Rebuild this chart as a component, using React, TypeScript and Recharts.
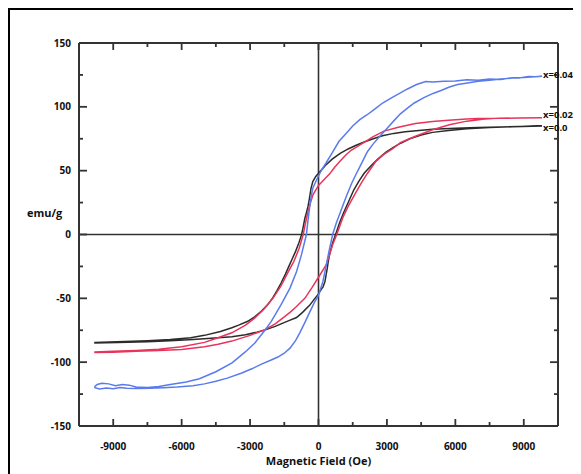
import React from "react";
import {
  LineChart,
  Line,
  XAxis,
  YAxis,
  ReferenceLine,
  ReferenceDot,
} from "recharts";

// Hysteresis loops: [field (Oe), moment (emu/g)].
// Each list runs down from +H max to -H max, then back up.
const loopX000: [number, number][] = [
  [9800, 85], [8800, 84.6], [8000, 84.3], [7000, 83.8], [6000, 83.2], [5000, 82.5],
  [4400, 81.5], [3800, 80.5], [3300, 79.2], [2800, 77.3], [2400, 75], [2000, 72.5],
  [1600, 69.5], [1300, 67], [950, 63.5], [600, 59], [300, 54], [100, 50], [0, 48],
  [-120, 45.5], [-250, 41.5], [-330, 36], [-400, 28], [-460, 22], [-530, 17],
  [-600, 12.5], [-670, 6], [-740, 0], [-850, -6], [-1000, -13], [-1150, -19],
  [-1300, -25], [-1450, -31], [-1640, -38], [-1820, -44], [-2000, -49.5],
  [-2250, -55.5], [-2500, -60], [-2800, -64.5], [-3100, -68], [-3500, -71],
  [-3800, -73], [-4300, -76], [-5000, -79], [-5600, -80.8], [-6500, -82.3],
  [-7500, -83.2], [-8500, -83.8], [-9800, -84.5],
  [-9800, -85], [-8800, -84.6], [-7500, -84], [-6500, -83.3], [-5500, -82.3],
  [-4700, -81.2], [-3800, -80], [-3200, -78.5], [-2700, -76.5], [-2300, -74.5],
  [-1900, -72], [-1640, -70], [-1300, -67.5], [-960, -65], [-700, -61],
  [-390, -55.5], [-200, -51], [0, -46.5], [120, -43], [200, -41], [280, -37],
  [330, -32], [380, -27], [420, -22], [470, -17], [520, -13], [620, -6.5],
  [750, 0], [920, 9], [1100, 17], [1350, 27], [1550, 35], [1780, 42], [2000, 48],
  [2150, 51], [2400, 55.5], [2600, 59], [2960, 64.5], [3300, 68.5], [3600, 71.5],
  [4000, 75], [4500, 78], [5000, 80], [5700, 81.5], [6500, 82.8], [7500, 83.8],
  [8500, 84.4], [9800, 85],
];

const loopX002: [number, number][] = [
  [9800, 91.5], [8800, 91.3], [8000, 91], [7000, 90.8], [6500, 90.5], [5700, 89.5],
  [5000, 88.5], [4250, 87], [3500, 84], [2870, 81], [2380, 76.5], [2070, 73],
  [1750, 69.5], [1430, 66], [1210, 62.5], [950, 57.5], [700, 52.5], [490, 47.5],
  [250, 43], [0, 38.5], [-245, 31], [-350, 25], [-460, 18], [-570, 9], [-670, 0],
  [-850, -11], [-1080, -21], [-1350, -30], [-1650, -40.5], [-2000, -50],
  [-2400, -58.5], [-2800, -65.5], [-3200, -71], [-3800, -77], [-4500, -81.5],
  [-5000, -84.5], [-6000, -88], [-7000, -89.8], [-8000, -90.8], [-9000, -91.5],
  [-9800, -92],
  [-9800, -92.5], [-9000, -92.2], [-8000, -91.5], [-7000, -90.8], [-6000, -90],
  [-5000, -88], [-4400, -86], [-3800, -83.5], [-3000, -79], [-2350, -74.5],
  [-1900, -70], [-1500, -64.5], [-1250, -61], [-1000, -57], [-800, -53.5],
  [-600, -50], [-300, -42], [0, -33.5], [330, -24], [480, -16], [620, -8], [800, 0],
  [1060, 13], [1300, 22], [1640, 33], [1900, 41], [2150, 48], [2500, 57],
  [2850, 62.5], [3240, 67], [3590, 72], [4250, 77], [5000, 82], [5740, 86],
  [6500, 88.8], [7200, 90.2], [7890, 91], [8800, 91.3], [9800, 91.5],
];

const loopX004: [number, number][] = [
  [9800, 124], [9500, 123.5], [9200, 123.8], [8800, 122.5], [8500, 122.8],
  [8000, 121.5], [7500, 121.8], [7000, 120.8], [6500, 121.2], [6000, 120.2],
  [5500, 120], [5000, 119.5], [4700, 119.8], [4300, 117.5], [3900, 114],
  [3590, 111], [3200, 107], [2810, 103], [2450, 98], [2150, 94], [1810, 90],
  [1500, 85], [1200, 79], [900, 73], [600, 64], [330, 56], [150, 51], [0, 46],
  [-245, 36.5], [-320, 30], [-390, 21], [-460, 11], [-530, 0], [-640, -8],
  [-750, -16], [-960, -29], [-1250, -42], [-1640, -55], [-2070, -68],
  [-2350, -75], [-2790, -85], [-3210, -92], [-3790, -100.5], [-4500, -107.5],
  [-5220, -113], [-5800, -115.5], [-6500, -117.5], [-7000, -119], [-7500, -119.8],
  [-8000, -119.5], [-8300, -118], [-8600, -117.5], [-8900, -118.5], [-9200, -117],
  [-9500, -116.5], [-9700, -117.5], [-9800, -119],
  [-9800, -120], [-9600, -121], [-9300, -120.2], [-9000, -120.8], [-8700, -119.8],
  [-8400, -120.5], [-8000, -120.6], [-7380, -120.4], [-6800, -120], [-6200, -119.5],
  [-5500, -118.5], [-5000, -117], [-4500, -115], [-4000, -112.5], [-3360, -108.5],
  [-2900, -105], [-2500, -101.5], [-2100, -98.5], [-1780, -96], [-1500, -93],
  [-1250, -89], [-1000, -83], [-820, -77], [-600, -69], [-390, -61], [-200, -54],
  [0, -47.5], [190, -37], [330, -25], [450, -14], [560, -5], [620, 0], [780, 9],
  [950, 17], [1200, 29], [1450, 40], [1640, 47], [1810, 53], [2150, 65],
  [2400, 71], [2670, 76.5], [3000, 83], [3300, 89], [3590, 94.5], [3900, 99],
  [4200, 103], [4600, 107], [5020, 110.5], [5400, 113], [5740, 115.5],
  [6100, 117.5], [6460, 118.5], [7000, 120], [7500, 120.8], [8000, 121.8],
  [8500, 122.5], [9000, 123], [9800, 124],
];

const xMajor = [-9000, -6000, -3000, 0, 3000, 6000, 9000];
const xMinor = [-7500, -4500, -1500, 1500, 4500, 7500];
const yMajor = [-150, -100, -50, 0, 50, 100, 150];
const yMinor = [-125, -75, -25, 25, 75, 125];

const FONT = "'Open Sans', sans-serif";
const AXIS = "#333";
const X_MIN = -10500;
const X_MAX = 10500;
const Y_MIN = -150;
const Y_MAX = 150;

const toPoints = (loop: [number, number][]) => loop.map(([h, m]) => ({ h, m }));

const tickText = { fontFamily: FONT, fontWeight: 700, fontSize: 10, fill: "#111" };
const tickStroke = { stroke: AXIS, strokeWidth: 1.8 };
const titleStyle: React.CSSProperties = {
  position: "absolute",
  fontFamily: FONT,
  fontWeight: 700,
  fontSize: 11,
  lineHeight: "15px",
  color: "#111",
  whiteSpace: "nowrap",
};

const series = [
  { name: "x=0.0", loop: loopX000, color: "#2b2b2b", dy: 2 },
  { name: "x=0.02", loop: loopX002, color: "#e8345c", dy: -2.7 },
  { name: "x=0.04", loop: loopX004, color: "#5a7bec", dy: -1.5 },
];

const NoLabel = () => <g />;

function EndTag(props: any) {
  const { viewBox, value, dy } = props;
  if (!viewBox) return null;
  const x = viewBox.x + viewBox.width / 2;
  const y = viewBox.y + viewBox.height / 2;
  return (
    <text x={x + 1} y={y + dy} dominantBaseline="central" fontFamily={FONT}
      fontWeight={700} fontSize={9.5} fill="#111">
      {value}
    </text>
  );
}

// a short inward tick drawn from the dot's own position
function tickShape(dx: number, dy: number) {
  return (p: any) =>
    p && Number.isFinite(p.cx) && Number.isFinite(p.cy) ? (
      <line x1={p.cx} y1={p.cy} x2={p.cx + dx} y2={p.cy + dy} {...tickStroke} />
    ) : (
      <g />
    );
}

function frameTickDots() {
  const out: React.ReactNode[] = [];
  xMajor.concat(xMinor).forEach((v) => {
    const len = xMajor.includes(v) ? 7 : 4;
    out.push(
      <ReferenceDot key={`tb${v}`} x={v} y={Y_MIN} r={1} ifOverflow="visible"
        shape={tickShape(0, -len)} />,
      <ReferenceDot key={`tt${v}`} x={v} y={Y_MAX} r={1} ifOverflow="visible"
        shape={tickShape(0, len)} />
    );
  });
  yMajor.concat(yMinor).forEach((v) => {
    const len = yMajor.includes(v) ? 8 : 4;
    out.push(
      <ReferenceDot key={`tl${v}`} x={X_MIN} y={v} r={1} ifOverflow="visible"
        shape={tickShape(len, 0)} />,
      <ReferenceDot key={`tr${v}`} x={X_MAX} y={v} r={1} ifOverflow="visible"
        shape={tickShape(-len, 0)} />
    );
  });
  return out;
}

// tick-only axes, mirrored so the marks point into the frame
function tickAxes() {
  const common = {
    type: "number" as const,
    interval: 0 as const,
    axisLine: false,
    tickLine: tickStroke,
    tick: <NoLabel />,
    mirror: true,
    allowDataOverflow: true,
  };
  return [
    <XAxis key="xbM" xAxisId="xbM" {...common} domain={[X_MIN, X_MAX]} ticks={xMajor}
      height={0} tickSize={7} />,
    <XAxis key="xbm" xAxisId="xbm" {...common} domain={[X_MIN, X_MAX]} ticks={xMinor}
      height={0} tickSize={4} />,
    <XAxis key="xtM" xAxisId="xtM" orientation="top" {...common} domain={[X_MIN, X_MAX]}
      ticks={xMajor} height={0} tickSize={7} />,
    <XAxis key="xtm" xAxisId="xtm" orientation="top" {...common} domain={[X_MIN, X_MAX]}
      ticks={xMinor} height={0} tickSize={4} />,
    <YAxis key="ylM" yAxisId="ylM" {...common} domain={[Y_MIN, Y_MAX]} ticks={yMajor}
      width={0} tickSize={8} />,
    <YAxis key="ylm" yAxisId="ylm" {...common} domain={[Y_MIN, Y_MAX]} ticks={yMinor}
      width={0} tickSize={4} />,
    <YAxis key="yrM" yAxisId="yrM" orientation="right" {...common} domain={[Y_MIN, Y_MAX]}
      ticks={yMajor} width={0} tickSize={8} />,
    <YAxis key="yrm" yAxisId="yrm" orientation="right" {...common} domain={[Y_MIN, Y_MAX]}
      ticks={yMinor} width={0} tickSize={4} />,
  ];
}

export default function App() {
  return (
    <div
      style={{
        position: "relative",
        width: 565,
        height: 466,
        borderLeft: "2px solid #000",
        borderTop: "2px solid #000",
        boxSizing: "border-box",
      }}
    >
      <div style={{ ...titleStyle, left: 17, top: 195 }}>emu/g</div>
      <div style={{ ...titleStyle, left: 308.5, top: 443, transform: "translateX(-50%)" }}>
        Magnetic Field (Oe)
      </div>
      <LineChart width={563} height={464} margin={{ top: 33, right: 15, bottom: 0, left: 9 }}>
        {tickAxes()}
        <XAxis type="number" dataKey="h" domain={[X_MIN, X_MAX]} ticks={xMajor}
          height={48} tickMargin={11} axisLine={{ stroke: AXIS, strokeWidth: 2 }}
          tickLine={false} tick={tickText} />
        <YAxis type="number" domain={[Y_MIN, Y_MAX]} ticks={yMajor} width={60}
          axisLine={{ stroke: AXIS, strokeWidth: 2 }} tickLine={false} tick={tickText} />
        <ReferenceLine y={Y_MAX} stroke={AXIS} strokeWidth={2} ifOverflow="visible" />
        <ReferenceLine x={X_MAX} stroke={AXIS} strokeWidth={2} ifOverflow="visible" />
        <ReferenceLine x={0} stroke={AXIS} strokeWidth={1.6} />
        <ReferenceLine y={0} stroke={AXIS} strokeWidth={1.6} />
        {frameTickDots()}
        {series.map((s) => (
          <Line
            key={s.name}
            data={toPoints(s.loop)}
            dataKey="m"
            type="linear"
            stroke={s.color}
            strokeWidth={1.5}
            dot={false}
            activeDot={false}
            isAnimationActive={false}
          />
        ))}
        {series.map((s) => {
          const [h, m] = s.loop[s.loop.length - 1];
          return (
            <ReferenceDot key={`tag-${s.name}`} x={h} y={m} r={0} stroke="none"
              ifOverflow="visible"
              label={<EndTag value={s.name} dy={s.dy} />} />
          );
        })}
      </LineChart>
    </div>
  );
}
